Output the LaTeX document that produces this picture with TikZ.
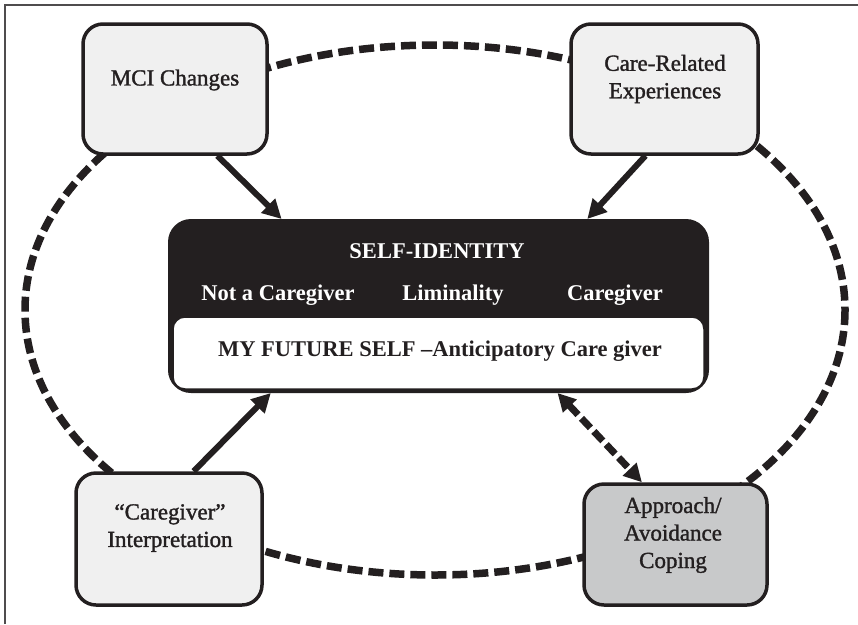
\documentclass[tikz,border=0pt]{standalone}
\usepackage{fontspec}
\setmainfont{Liberation Serif}
\newfontfamily\semibold[Ligatures=TeX,FakeBold=1.4]{Liberation Serif}
\usetikzlibrary{arrows.meta,calc}
\definecolor{ink}{HTML}{231F20}
\definecolor{lightbox}{HTML}{F0F0F0}
\definecolor{midbox}{HTML}{C8C9CA}
\begin{document}
\begin{tikzpicture}[x=1pt,y=-1pt,
  box/.style={draw=ink, line width=3.5pt, rounded corners=20pt, fill=lightbox, inner sep=0pt},
  lbl/.style={font=\fontsize{23}{27.5}\selectfont\semibold, text=ink, align=center, inner sep=0pt},
  wlbl/.style={font=\fontsize{22.5}{27}\selectfont\bfseries, text=white, inner sep=0pt},
  ring/.style={draw=ink, line width=7.5pt, dash pattern=on 15pt off 6pt},
  flow/.style={draw=ink, line width=6pt, -{Triangle[length=19pt,width=19pt]}},
  twoway/.style={draw=ink, line width=7pt, dash pattern=on 13pt off 5pt,
    {Triangle[length=18pt,width=18pt]}-{Triangle[length=18pt,width=18pt]}},
  frameline/.style={draw=ink!80, line width=1.2pt}
]
\useasboundingbox (0,0) rectangle (858,624);
\draw[frameline] (5,624) -- (5,5) -- (858,5);

% dashed loop
\coordinate (loopc) at (435,310);
\draw[ring] (loopc) ellipse [x radius=410, y radius=265];

% outer boxes
\node[box, minimum width=184, minimum height=130] (mci) at (175,89) {};
\node[lbl] (mcit) at (175,80) {MCI Changes};

\node[box, minimum width=187, minimum height=130] (care) at (664.5,89) {};
\node[lbl] (caret) at (665,79) {Care-Related\\Experiences};

\node[box, minimum width=186, minimum height=132] (interp) at (169,539) {};
\node[lbl] (interpt) at (170,528) {“Caregiver”\\Interpretation};

\node[box, fill=midbox, minimum width=183, minimum height=121] (cope) at (675.5,544.5) {};
\node[lbl] (copet) at (673,535) {Approach/\\Avoidance\\Coping};

% central box
\node[draw=ink, fill=ink, line width=2pt, rounded corners=22pt, minimum width=539, minimum height=172, inner sep=0pt] (self) at (438.5,306) {};
\node[draw=ink, fill=white, line width=1.5pt, rounded corners=12pt, minimum width=531, minimum height=72, inner sep=0pt] (future) at (438.5,353) {};
\node[wlbl] (selft) at (437,251) {SELF-IDENTITY};
\node[wlbl] (notcg) at (278,295) {Not a Caregiver};
\node[wlbl] (limin) at (453,295) {Liminality};
\node[wlbl] (iscg) at (615,295) {Caregiver};
\node[wlbl, text=ink] (futuret) at (440,351) {MY FUTURE SELF –Anticipatory Care giver};

% connectors
\draw[flow] ($(mci.south west)!0.726!(mci.south east)$) -- ($(self.north west)!0.21!(self.north east)$);
\draw[flow] ($(care.south west)!0.40!(care.south east)$) -- ($(self.north west)!0.775!(self.north east)$);
\draw[flow] ($(interp.north west)!0.63!(interp.north east)$) -- ($(self.south west)!0.19!(self.south east)$);
\draw[twoway] ($(self.south west)!0.72!(self.south east)$) -- ($(cope.north west)!0.32!(cope.north east)$);
\end{tikzpicture}
\end{document}
